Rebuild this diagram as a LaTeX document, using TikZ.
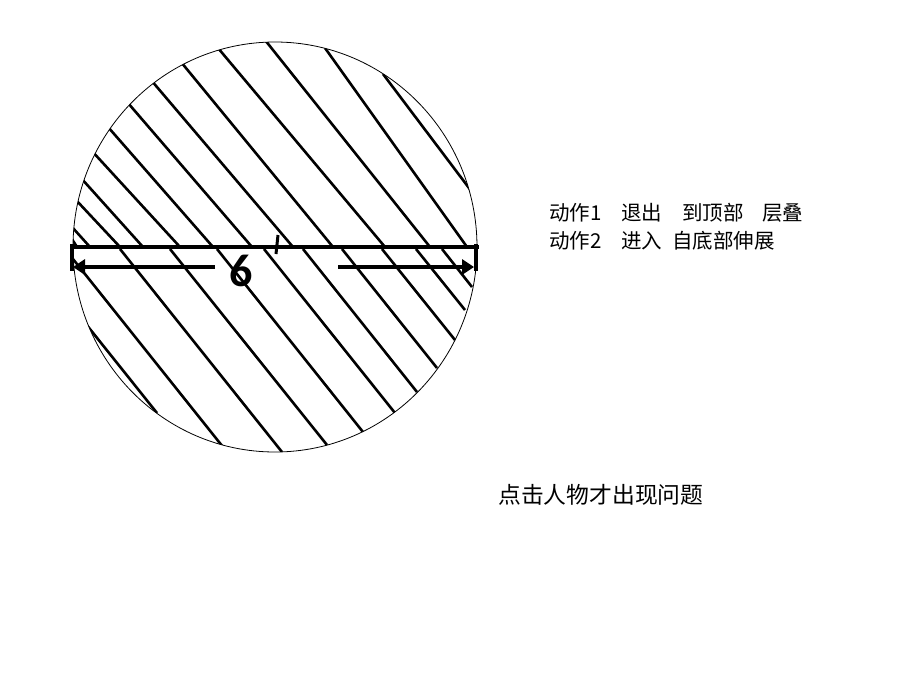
\documentclass[tikz,border=0pt]{standalone}
\usepackage{fontspec}
\newfontfamily\cjk{Noto Sans CJK SC}
\newfontfamily\numfont{Carlito}
\usetikzlibrary{arrows.meta}

\begin{document}
\begin{tikzpicture}[x=1pt,y=-1pt]%
  \useasboundingbox (0,0) rectangle (920,690);

  % hatched disc, upper strokes end on the bar, lower ones start there
  \begin{scope}
    \clip (275,247) ellipse [x radius=202, y radius=205];
    \foreach \tx/\ty/\bx in {70/236/77, 72/227/90, 76/200/120, 81/178/143,
        91/150/180, 108/127/213, 128/103/252, 151/80/293, 181/62/333,
        218/48/385, 265/40/430, 325/48/467}
      \draw [line width=2.6pt] (\tx,\ty) -- (\bx,247);
    \draw [line width=2.6pt] (383,74) -- (472,192);
    \foreach \bx/\ex/\ey in {26/157/413, 65/223/447, 120/282/452, 170/327/445,
        217/363/432, 264/395/413, 303/417/392, 342/437/368, 382/455/340,
        416/465/310, 442/472/287}
      \draw [line width=2.6pt] (\bx,249) -- (\ex,\ey);
  \end{scope}
  \draw [line width=0.8pt] (275,247) ellipse [x radius=202, y radius=205];

  \coordinate (barL) at (70,247);
  \coordinate (barR) at (479,247);
  \coordinate (endLt) at (72,244);
  \coordinate (endLb) at (72,271);
  \coordinate (endRt) at (476,244);
  \coordinate (endRb) at (476,271);
  \coordinate (dimL) at (73,267);
  \coordinate (dimR) at (474,267);
  \coordinate (gapL) at (215,267);
  \coordinate (gapR) at (338,267);
  \coordinate (markT) at (278,235);
  \coordinate (markB) at (276,254);

  \node[inner sep=0pt, font=\numfont\bfseries\fontsize{46}{46}\selectfont]
    (six) at (241,271) {6};

  \node[anchor=west, inner sep=0pt, font=\cjk\fontsize{20.5}{20.5}\selectfont]
    (act1) at (549,213) {动作1\hspace{19.7pt}退出\hspace{20pt}到顶部\hspace{18.5pt}层叠};

  \node[anchor=west, inner sep=0pt, font=\cjk\fontsize{20.5}{20.5}\selectfont]
    (act2) at (549,241) {动作2\hspace{19.7pt}进入\hspace{10pt}自底部伸展};

  \node[anchor=west, inner sep=0pt, font=\cjk\fontsize{22.8}{22.8}\selectfont]
    (issue) at (498,495) {点击人物才出现问题};

      \draw [-, line width=4pt] (barL) -- (barR);
      \draw [-, line width=4pt] (endLt) -- (endLb);
      \draw [-, line width=4pt] (endRt) -- (endRb);
      \draw [-{Triangle[length=12pt,width=15pt]}, line width=4pt] (gapL) -- (dimL);
      \draw [-{Triangle[length=12pt,width=15pt]}, line width=4pt] (gapR) -- (dimR);
      \draw [-, line width=3pt] (markT) -- (markB);
    \end{tikzpicture}
\end{document}
